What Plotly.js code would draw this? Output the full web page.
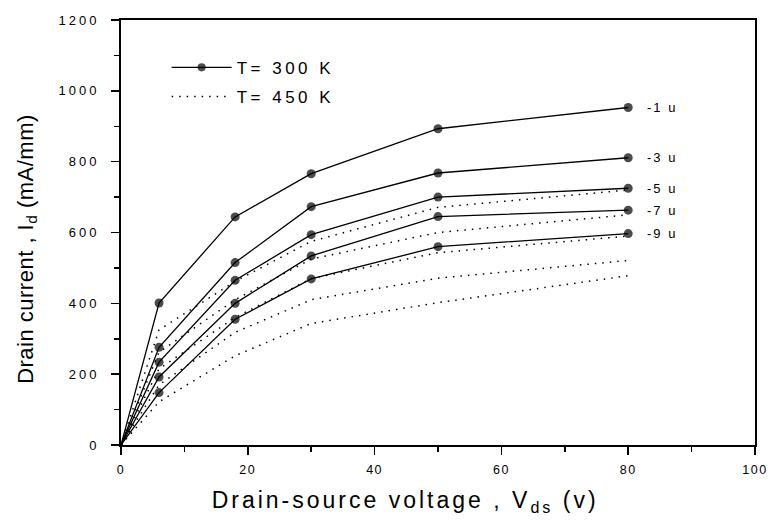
<!DOCTYPE html>
<html>
<head>
<meta charset="utf-8">
<script src="https://cdn.plot.ly/plotly-3.0.1.min.js"></script>
<style>
  html, body { margin: 0; padding: 0; background: #fff; }
  #chart { width: 768px; height: 521px; }
  .ytick text { letter-spacing: 3px; }
  .xtick text { letter-spacing: 1.5px; }
  .legendtext { letter-spacing: 3.5px; }
  .annotation-text { letter-spacing: 2px; }
  .xtitle { letter-spacing: 3px; }
  .ytitle { letter-spacing: 0.5px; }
</style>
</head>
<body>
<div id="chart"></div>
<script>
// Drain-source voltage (V)
const vds = [0, 6, 18, 30, 50, 80];

// Gate voltage labels
const gateLabels = ['-1 u', '-3 u', '-5 u', '-7 u', '-9 u'];

// T = 300 K, drain current (mA/mm)
const id300_m1 = [0, 401, 644, 766, 893, 953];
const id300_m3 = [0, 276, 515, 673, 768, 811];
const id300_m5 = [0, 234, 465, 594, 700, 725];
const id300_m7 = [0, 192, 400, 534, 645, 663];
const id300_m9 = [0, 148, 355, 469, 560, 597];

// T = 450 K, drain current (mA/mm)
const id450_m1 = [0, 325, 462, 575, 671, 720];
const id450_m3 = [0, 262, 410, 525, 600, 650];
const id450_m5 = [0, 215, 360, 470, 543, 590];
const id450_m7 = [0, 170, 318, 410, 471, 521];
const id450_m9 = [0, 122, 252, 343, 402, 478];

const series300 = [id300_m1, id300_m3, id300_m5, id300_m7, id300_m9];
const series450 = [id450_m1, id450_m3, id450_m5, id450_m7, id450_m9];

const traces = [];
series300.forEach((ys, i) => {
  traces.push({
    x: vds, y: ys, type: 'scatter', mode: 'lines+markers',
    name: 'T= 300 K', legendgroup: 'g300', showlegend: i === 0,
    line: { color: '#000', width: 1.3 },
    marker: { color: '#000', size: vds.map(v => v === 0 ? 4 : 9),
              line: { width: 0 } },
    hoverinfo: 'skip'
  });
});
series450.forEach((ys, i) => {
  traces.push({
    x: vds, y: ys, type: 'scatter', mode: 'lines',
    name: 'T= 450 K', legendgroup: 'g450', showlegend: i === 0,
    line: { color: '#000', width: 1.5, dash: '1.5px,6px' },
    hoverinfo: 'skip'
  });
});

const annotations = gateLabels.map((t, i) => ({
  x: 82.6, y: series300[i][series300[i].length - 1],
  xref: 'x', yref: 'y', text: t, showarrow: false,
  xanchor: 'left', yanchor: 'middle',
  font: { family: 'Liberation Sans, Arial, sans-serif', size: 13, color: '#000' }
}));

const axisCommon = {
  ticks: 'outside', ticklen: 8, tickwidth: 1.5, tickcolor: '#000',
  showline: true, linewidth: 2, linecolor: '#000', mirror: true,
  showgrid: false, zeroline: false, ticklabeloverflow: 'allow',
  tickfont: { family: 'Liberation Sans, Arial, sans-serif', size: 13, color: '#000' }
};

const NB = '&nbsp;';

const layout = {
  width: 768, height: 521,
  margin: { l: 121, r: 13, t: 20, b: 76 },
  paper_bgcolor: '#fff', plot_bgcolor: '#fff',
  font: { family: 'Liberation Sans, Arial, sans-serif', color: '#000' },
  xaxis: Object.assign({}, axisCommon, {
    range: [0, 100], tick0: 0, dtick: 20,
    minor: { dtick: 10, ticklen: 5, tickwidth: 1.5, tickcolor: '#000', ticks: 'outside' },
    ticklabelstandoff: 4,
    tickfont: { family: 'Liberation Sans, Arial, sans-serif', size: 12.5, color: '#000' },
    title: { text: 'Drain-source voltage , V<sub>ds</sub> (v)' + NB.repeat(7),
             font: { size: 23, color: '#000' }, standoff: 16 }
  }),
  yaxis: Object.assign({}, axisCommon, {
    range: [0, 1200], tick0: 0, dtick: 200,
    minor: { dtick: 100, ticklen: 5, tickwidth: 1.5, tickcolor: '#000', ticks: 'outside' },
    ticklabelstandoff: 9,
    title: { text: 'Drain current , I<sub>d</sub> (mA/mm)' + NB.repeat(5),
             font: { size: 22, color: '#000' }, standoff: 19 }
  }),
  legend: {
    x: 0.072, y: 0.93, xanchor: 'left', yanchor: 'top',
    bgcolor: 'rgba(0,0,0,0)', borderwidth: 0,
    font: { size: 17, color: '#000' },
    tracegroupgap: 4, itemwidth: 60
  },
  annotations: annotations,
  showlegend: true
};

Plotly.newPlot('chart', traces, layout, { staticPlot: true, displayModeBar: false });
</script>
</body>
</html>
